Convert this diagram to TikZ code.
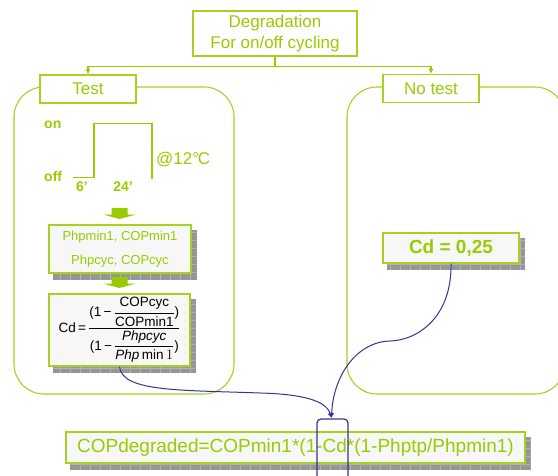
\documentclass[tikz,border=0pt]{standalone}
\usepackage{fontspec}
\setmainfont{Liberation Sans}
\usepackage{amsmath}
\usetikzlibrary{arrows.meta}
\pgfdeclarelayer{bg}
\pgfsetlayers{bg,main}
\definecolor{leaf}{RGB}{153,204,0}
\definecolor{leafline}{RGB}{165,210,30}
\definecolor{ink}{RGB}{51,51,153}
\definecolor{paper}{RGB}{247,247,247}
\definecolor{shadowgray}{RGB}{150,150,150}
\definecolor{shadowgrid}{RGB}{178,178,178}

\tikzset{
  panel/.style={draw=leafline, line width=1.1pt, rounded corners=30pt},
  tab/.style={draw=leafline, line width=1.3pt, fill=white, text=leaf,
    font=\fontsize{17}{21}\selectfont, inner sep=0pt},
  card/.style={draw=leafline, line width=1.3pt, fill=paper, inner sep=0pt},
  greenlink/.style={draw=leaf, line width=1.1pt, -{Latex[length=5pt,width=5pt]}},
  bluelink/.style={draw=ink, line width=1pt, -{Latex[length=5pt,width=5pt]}},
  boldlabel/.style={text=leaf, font=\fontsize{14}{16}\selectfont\bfseries, inner sep=0pt},
  blockarrow/.style={fill=leaf},
}

% grey drop shadow with a light grid, drawn behind a node
\newcommand\castshadow[1]{%
  \begin{pgfonlayer}{bg}
    \fill[fill=shadowgray] ([shift={(5,6)}]#1.south west) rectangle ([shift={(5,6)}]#1.north east);
    \begin{scope}
      \clip ([shift={(5,6)}]#1.south west) rectangle ([shift={(5,6)}]#1.north east);
      \draw[draw=shadowgrid, line width=0.5pt, xstep=10pt, ystep=8pt]
        ([shift={(5,6)}]#1.south west) grid ([shift={(5,6)}]#1.north east);
    \end{scope}
  \end{pgfonlayer}}

% text pieces of the formula
\newcommand\opn{\mbox{(1\,−\,}}
\newcommand\cls{\mbox{)}}

\begin{document}
\begin{tikzpicture}[x=1pt, y=-1pt]
  \useasboundingbox (0,0) rectangle (558,475);
  \begin{pgfonlayer}{bg}
    \fill[white] (0,0) rectangle (558,475);
  \end{pgfonlayer}

  % the two rounded panels
  \draw[panel] (14,87) rectangle (234,394);
  \draw[panel] (347,87) rectangle (565,394);

  % heading and branch tabs
  \node[tab, minimum width=164pt, minimum height=45pt, align=center] (deg) at (275,33.5)
    {Degradation\\For on/off cycling};
  \node[tab, minimum width=96pt, minimum height=28pt] (test) at (88,89) {Test};
  \node[tab, minimum width=96pt, minimum height=28pt] (notest) at (431,88.5) {No test};
  \draw[greenlink] (deg.south) -- ++(0,10) -| (test.north);
  \draw[greenlink] (deg.south) -- ++(0,10) -| (notest.north);

  % on/off cycle
  \draw[leaf, line width=1.5pt] (73,177.5) -- (94,177.5) -- (94,123.5) -- (152,123.5) -- (152,178.5);
  \node[boldlabel, anchor=west] (on) at (44,125) {on};
  \node[boldlabel, anchor=west] (off) at (44,176) {off};
  \node[boldlabel] (t6) at (82,187) {6’};
  \node[boldlabel] (t24) at (123,187) {24’};
  \node[text=leaf, font=\fontsize{17}{20}\selectfont, anchor=west, inner sep=0pt] (temp) at (156,160)
    {@12°\kern-0.08em C};

  % block arrows
  \fill[blockarrow] (111.5,208) -- (127.5,208) -- (127.5,214.5) -- (136,214.5) -- (119.5,219)
    -- (103,214.5) -- (111.5,214.5) -- cycle;
  \fill[blockarrow] (111.5,277) -- (127.5,277) -- (127.5,283.5) -- (136,283.5) -- (119.5,288)
    -- (103,283.5) -- (111.5,283.5) -- cycle;

  % measured quantities
  \node[card, minimum width=142pt, minimum height=48pt, text=leaf,
    font=\fontsize{13}{24.5}\selectfont, align=center] (meas) at (120,249)
    {Phpmin1, COPmin1\\Phpcyc, COPcyc};
  \castshadow{meas}

  % degradation coefficient formula
  \node[card, minimum width=141pt, minimum height=72pt, text=black,
    font=\fontsize{13.5}{15}\selectfont] (cdf) at (119.5,330)
    {Cd\,=\,$\dfrac{\opn\dfrac{\mbox{COPcyc}}{\mbox{COPmin1}}\cls}
      {\opn\dfrac{\mbox{\itshape Phpcyc}}{\mbox{\itshape Php}\,\mbox{min}\,1}\cls}$};
  \castshadow{cdf}

  % default value
  \node[card, minimum width=136pt, minimum height=30pt, text=leaf,
    font=\fontsize{19}{22}\selectfont\bfseries] (cdfix) at (451,248) {Cd = 0,25};
  \castshadow{cdfix}

  % resulting COP
  \node[card, minimum width=459pt, minimum height=31pt, text=leaf,
    font=\fontsize{19}{22}\selectfont] (cop) at (295.5,447.5)
    {COPdegraded=COPmin1*(1-Cd*(1-Phptp/Phpmin1)};
  \castshadow{cop}

  % links into Cd
  \coordinate (join) at (331.5,418);
  \draw[bluelink] (cdf.south) .. controls (122,392) and (180,390) .. (260,393)
    .. controls (300,394) and (326,400) .. (join);
  \draw[bluelink] (cdfix.south) .. controls (452,315) and (420,340) .. (390,341)
    .. controls (355,342) and (333,378) .. (join);
  \draw[ink, line width=1.2pt, rounded corners=4pt] (317,480) -- (317,419) -- (348,419) -- (348,480);
\end{tikzpicture}
\end{document}
